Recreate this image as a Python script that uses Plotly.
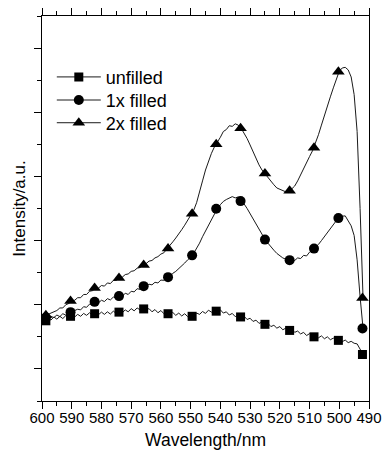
import plotly.graph_objects as go

# ---- data ----
wavelength = list(range(600, 491, -1))  # 600 ... 492 nm, 1 nm step

unfilled = [2.55, 2.50, 2.60, 2.52, 2.62, 2.55, 2.64, 2.57, 2.66, 2.60,
            2.66, 2.62, 2.70, 2.64, 2.73, 2.67, 2.75, 2.68, 2.76, 2.69,
            2.77, 2.70, 2.78, 2.71, 2.80, 2.73, 2.80, 2.75, 2.84, 2.78,
            2.88, 2.81, 2.90, 2.84, 2.90, 2.83, 2.88, 2.78, 2.85, 2.75,
            2.82, 2.72, 2.78, 2.70, 2.76, 2.67, 2.74, 2.65, 2.72, 2.63,
            2.69, 2.64, 2.74, 2.70, 2.79, 2.73, 2.83, 2.77, 2.84, 2.79,
            2.84, 2.74, 2.78, 2.68, 2.73, 2.63, 2.68, 2.60, 2.64, 2.54,
            2.58, 2.48, 2.52, 2.42, 2.46, 2.38, 2.42, 2.32, 2.36, 2.27,
            2.32, 2.22, 2.27, 2.19, 2.24, 2.14, 2.18, 2.09, 2.14, 2.04,
            2.10, 2.01, 2.06, 1.97, 2.03, 1.94, 2.00, 1.91, 1.96, 1.88,
            1.92, 1.85, 1.90, 1.82, 1.86, 1.80, 1.78, 1.62, 1.45]

filled_1x = [2.55, 2.60, 2.56, 2.64, 2.60, 2.68, 2.63, 2.72, 2.68, 2.76,
             2.78, 2.82, 2.86, 2.84, 2.94, 2.92, 3.02, 3.00, 3.10, 3.06,
             3.14, 3.10, 3.19, 3.15, 3.24, 3.20, 3.28, 3.26, 3.36, 3.32,
             3.42, 3.40, 3.50, 3.48, 3.58, 3.56, 3.64, 3.62, 3.70, 3.68,
             3.77, 3.76, 3.85, 3.88, 3.98, 4.04, 4.12, 4.22, 4.30, 4.40,
             4.48, 4.60, 4.74, 4.92, 5.12, 5.30, 5.48, 5.66, 5.86, 6.00,
             6.12, 6.22, 6.28, 6.32, 6.37, 6.33, 6.36, 6.24, 6.14, 6.00,
             5.84, 5.66, 5.50, 5.36, 5.20, 5.04, 4.92, 4.80, 4.70, 4.60,
             4.53, 4.46, 4.42, 4.39, 4.42, 4.38, 4.46, 4.44, 4.54, 4.52,
             4.64, 4.70, 4.80, 4.88, 5.00, 5.12, 5.26, 5.38, 5.50, 5.62,
             5.70, 5.76, 5.77, 5.62, 5.46, 5.16, 4.40, 3.25, 2.26]

filled_2x = [2.62, 2.66, 2.70, 2.74, 2.80, 2.82, 2.90, 2.90, 3.00, 3.04,
             3.12, 3.14, 3.22, 3.22, 3.32, 3.32, 3.42, 3.44, 3.52, 3.52,
             3.60, 3.58, 3.68, 3.66, 3.76, 3.76, 3.84, 3.86, 3.94, 3.96,
             4.04, 4.06, 4.14, 4.16, 4.24, 4.28, 4.36, 4.38, 4.46, 4.50,
             4.58, 4.62, 4.74, 4.84, 4.96, 5.08, 5.20, 5.34, 5.48, 5.62,
             5.76, 5.94, 6.18, 6.48, 6.86, 7.20, 7.48, 7.72, 7.92, 8.06,
             8.22, 8.40, 8.46, 8.58, 8.56, 8.64, 8.60, 8.50, 8.36, 8.18,
             7.98, 7.76, 7.54, 7.36, 7.20, 7.08, 6.96, 6.84, 6.74, 6.64,
             6.60, 6.54, 6.52, 6.52, 6.60, 6.70, 6.86, 7.06, 7.24, 7.46,
             7.62, 7.80, 8.02, 8.30, 8.60, 8.92, 9.20, 9.48, 9.76, 10.04,
             10.28, 10.38, 10.40, 10.32, 10.10, 9.55, 8.40, 6.00, 3.21]

marker_wl = [598.7, 590.4, 582.3, 574.1, 565.8, 557.6, 549.5,
             541.4, 533.2, 525.0, 516.7, 508.5, 500.3, 492.2]
unfilled_mk = [2.50, 2.64, 2.72, 2.77, 2.87, 2.72, 2.64,
               2.80, 2.62, 2.39, 2.20, 2.00, 1.89, 1.45]
filled_1x_mk = [2.60, 2.77, 3.09, 3.27, 3.58, 3.86, 4.54,
                5.99, 6.23, 5.03, 4.39, 4.75, 5.70, 2.26]
filled_2x_mk = [2.67, 3.12, 3.52, 3.83, 4.24, 4.75, 5.84,
                8.00, 8.50, 7.09, 6.55, 7.89, 10.26, 3.21]

series_names = ["unfilled", "1x filled", "2x filled"]
x_ticks = [600, 590, 580, 570, 560, 550, 540, 530, 520, 510, 500, 490]

FONT = "Liberation Sans, Arial, sans-serif"
INK = "black"
LINE = "#1a1a1a"

lines = [unfilled, filled_1x, filled_2x]
marks = [unfilled_mk, filled_1x_mk, filled_2x_mk]
symbols = ["square", "circle", "triangle-up"]
msizes = [9, 10, 11]
legend_ids = ["legend", "legend2", "legend3"]
legend_y = [0.841, 0.781, 0.722]

fig = go.Figure()
for name, ln, mk, sym, ms, lid in zip(series_names, lines, marks, symbols,
                                       msizes, legend_ids):
    fig.add_trace(go.Scatter(x=wavelength, y=ln, mode="lines",
                             line=dict(color=LINE, width=1),
                             showlegend=False, hoverinfo="skip"))
    fig.add_trace(go.Scatter(x=marker_wl, y=mk, mode="markers",
                             marker=dict(symbol=sym, size=ms, color=INK),
                             showlegend=False))
    # legend entry
    fig.add_trace(go.Scatter(x=[None], y=[None], mode="lines+markers", name=name,
                             legend=lid,
                             line=dict(color=LINE, width=1),
                             marker=dict(symbol=sym, size=ms, color=INK)))

# invisible trace to activate top axis
fig.add_trace(go.Scatter(x=[600], y=[None], xaxis="x2", mode="markers",
                         showlegend=False, hoverinfo="skip"))

legend_common = dict(x=0.03, xanchor="left", yanchor="middle",
                     bgcolor="rgba(0,0,0,0)", font=dict(size=18),
                     itemwidth=44, borderwidth=0)

fig.update_layout(
    width=386, height=450,
    margin=dict(l=42, r=17, t=16, b=49),
    paper_bgcolor="white", plot_bgcolor="white",
    font=dict(family=FONT, color=INK, size=15),
    legend=dict(y=legend_y[0], **legend_common),
    legend2=dict(y=legend_y[1], **legend_common),
    legend3=dict(y=legend_y[2], **legend_common),
    xaxis=dict(range=[600, 490], tickmode="array", tickvals=x_ticks,
               ticktext=[str(v) for v in x_ticks],
               ticks="outside", ticklen=7, tickwidth=1.2, tickcolor=INK,
               minor=dict(dtick=5, tick0=0, ticks="outside", ticklen=3.5,
                          tickwidth=1.2, tickcolor=INK),
               showline=True, linecolor=INK, linewidth=1.3, mirror=True,
               showgrid=False, zeroline=False, automargin=False,
               tickfont=dict(size=15), ticklabelstandoff=-4,
               title=dict(text="Wavelength/nm", font=dict(size=17.5), standoff=10)),
    xaxis2=dict(range=[600, 490], overlaying="x", side="top",
                tickmode="linear", tick0=600, dtick=10,
                ticks="outside", ticklen=6.5, tickwidth=1.2, tickcolor=INK,
                minor=dict(dtick=5, tick0=0, ticks="outside", ticklen=3.4,
                           tickwidth=1.2, tickcolor=INK),
                showticklabels=False, showline=True, linecolor=INK,
                linewidth=1.3, showgrid=False, zeroline=False, automargin=False),
    yaxis=dict(range=[0, 12], tickmode="linear", tick0=1, dtick=2,
               ticks="outside", ticklen=6.5, tickwidth=1.2, tickcolor=INK,
               minor=dict(dtick=1, tick0=0, ticks="outside", ticklen=4,
                          tickwidth=1.2, tickcolor=INK),
               showticklabels=False, showline=True, linecolor=INK,
               linewidth=1.3, mirror=True, showgrid=False, zeroline=False,
               automargin=False,
               title=dict(text="Intensity/a.u.", font=dict(size=17), standoff=4)),
)

fig.write_html("out.html")
